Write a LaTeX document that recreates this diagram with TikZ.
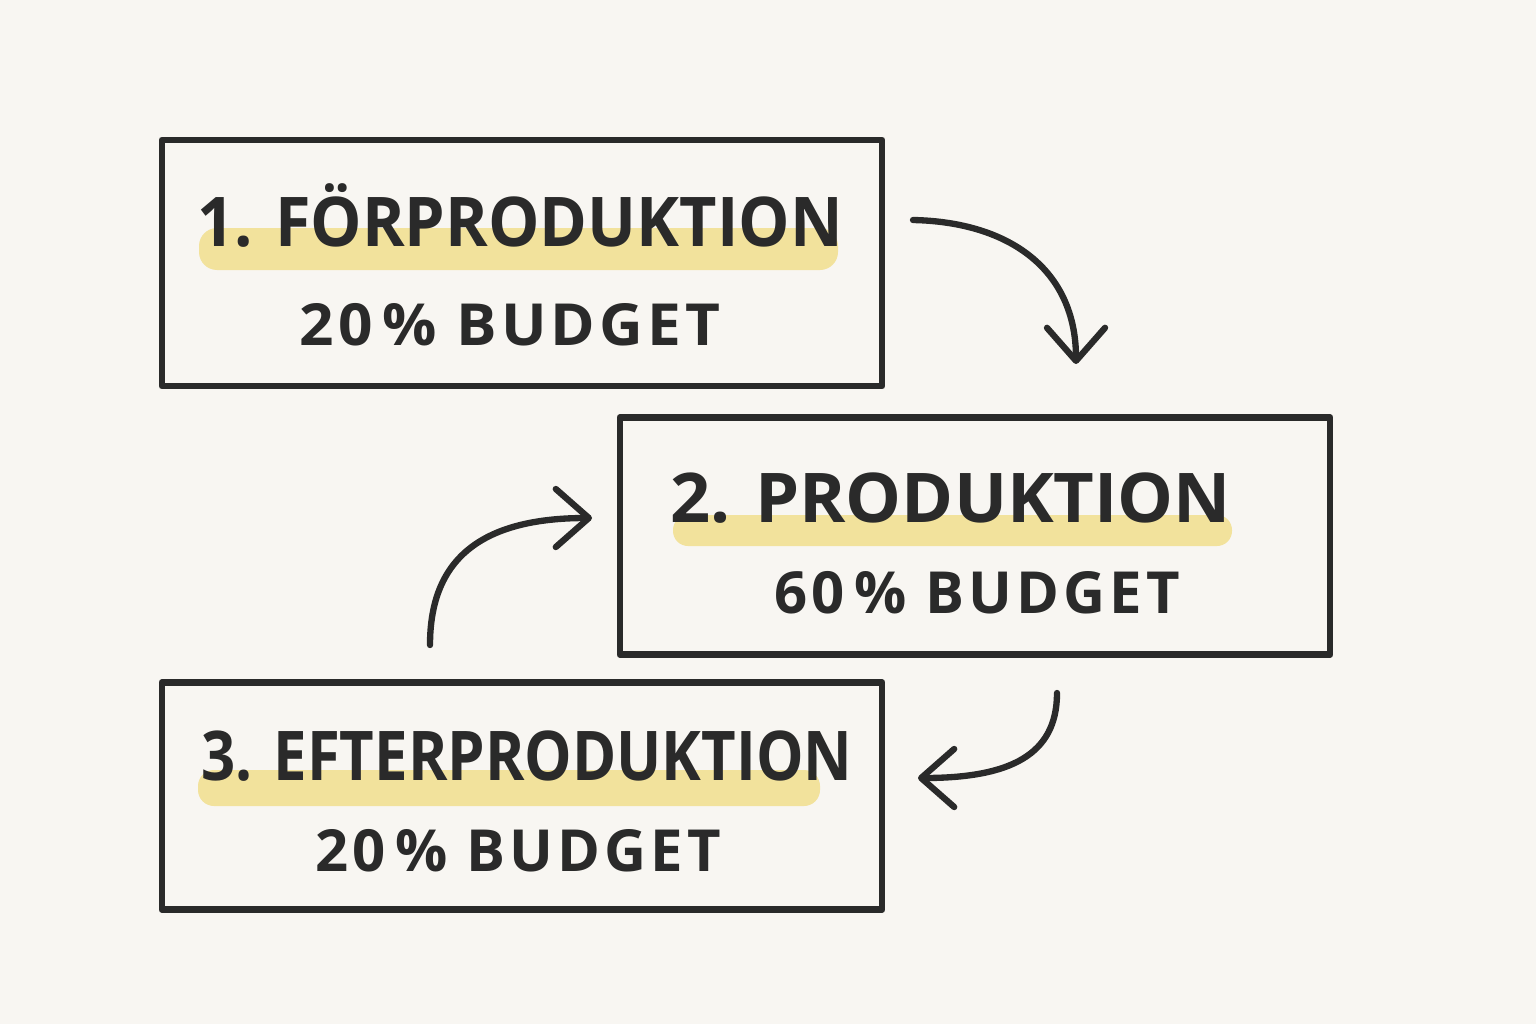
\documentclass[tikz,border=0pt]{standalone}
\usepackage{fontspec}
\setmainfont{Open Sans}
\usepackage{tikz}
\usetikzlibrary{arrows.meta}

\definecolor{paper}{HTML}{F8F6F2}
\definecolor{ink}{HTML}{2A2A2A}
\definecolor{marker}{HTML}{F2E29C}

\tikzset{
  phase/.style={draw=ink, line width=1.8pt, line join=round, minimum width=7.2cm, minimum height=2.4cm, inner sep=0pt},
  title/.style={text=ink, anchor=base, inner sep=0pt, font=\fontsize{19.5}{22}\selectfont\bfseries\addfontfeature{FakeStretch=#1}},
  title/.default=1,
  share/.style={text=ink, anchor=base, inner sep=0pt, font=\fontsize{16.5}{20}\selectfont\bfseries\addfontfeature{LetterSpace=7, FakeStretch=#1}},
  share/.default=1.04,
  flow/.style={draw=ink, line width=1.8pt, line cap=round, -{Straight Barb[length=3.3mm, width=5.8mm, line cap=round, line join=round]}},
}

\begin{document}
\begin{tikzpicture}[x=0.01cm, y=-0.01cm]
      \fill[paper] (0, 0) rectangle (1536, 1024);
      \useasboundingbox (0, 0) rectangle (1536, 1024);

      % boxes
      \node[phase, minimum width=7.2cm, minimum height=2.46cm] (pre) at (522, 263) {};
      \node[phase, minimum width=7.1cm, minimum height=2.37cm] (prod) at (975, 536) {};
      \node[phase, minimum width=7.2cm, minimum height=2.27cm] (post) at (522, 796) {};

      % highlights
      \fill[marker, rounded corners=0.18cm] (199, 228) rectangle (838, 270);
      \fill[marker, rounded corners=0.15cm] (673, 515) rectangle (1232, 546);
      \fill[marker, rounded corners=0.16cm] (198, 770) rectangle (820, 806);

      \node[title=0.944] (preT) at (520, 246) {1. FÖRPRODUKTION};
      \node[share] (preB) at (510, 345) {20\,\% BUDGET};
      \node[title=1.026] (prodT) at (951, 522) {2. PRODUKTION};
      \node[share=1.0] (prodB) at (977, 613) {60\,\% BUDGET};
      \node[title=0.873] (postT) at (527, 780) {3. EFTERPRODUKTION};
      \node[share=1.0] (postB) at (518, 871) {20\,\% BUDGET};

      % arrows
      \coordinate (a1) at (913, 220);
      \coordinate (b1) at (1076, 364);
      \coordinate (a2) at (430, 645);
      \coordinate (b2) at (592, 518);
      \coordinate (a3) at (1057, 693);
      \coordinate (b3) at (918, 778);
      \draw[flow] (a1) .. controls (1010, 222) and (1076, 270) .. (b1);
      \draw[flow] (a2) .. controls (430, 560) and (480, 518) .. (b2);
      \draw[flow] (a3) .. controls (1057, 755) and (1010, 778) .. (b3);
    \end{tikzpicture}
\end{document}
